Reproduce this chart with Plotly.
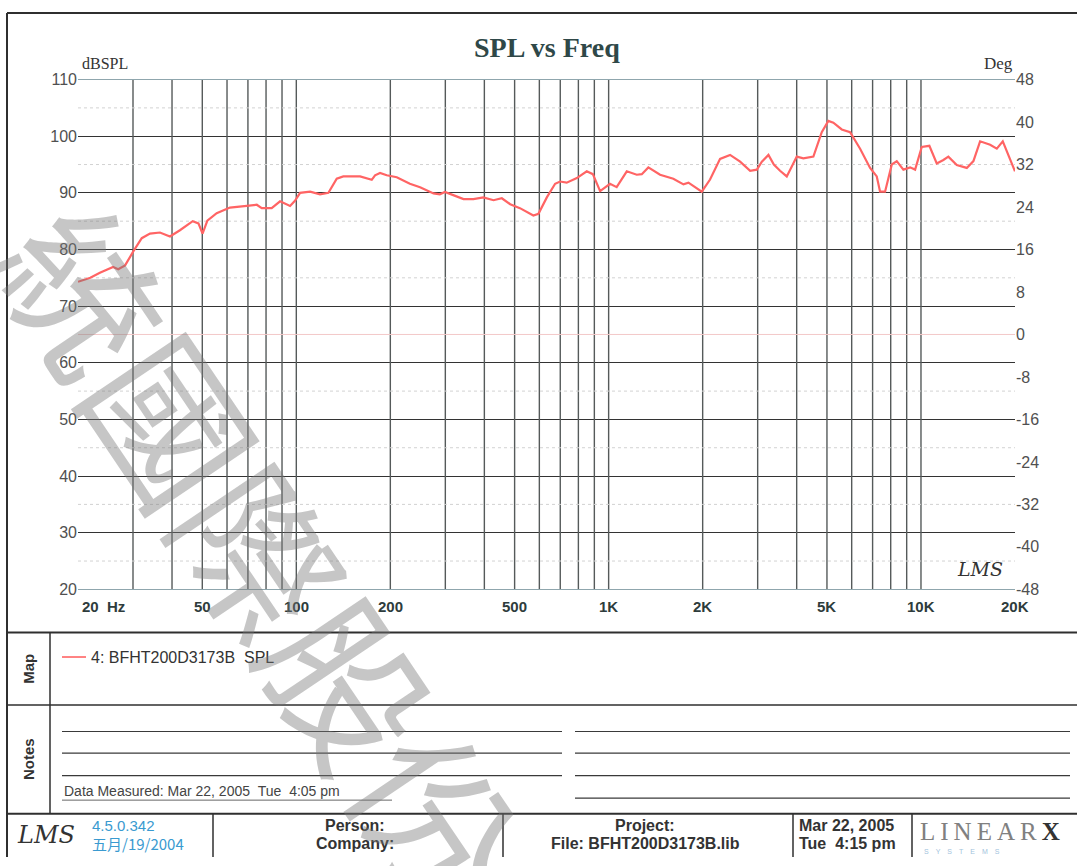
import math
import plotly.graph_objects as go

# ---------------- data ----------------
freq_hz = [20, 21.9, 23.5, 25.9, 26.9, 28.3, 30.1, 32, 34, 36.6, 39.4, 42.4, 46.6, 48.6, 50.1,
           51.9, 55.6, 61.3, 69.4, 74.7, 77.5, 83.4, 88.7, 95.5, 99, 102.8, 110.7, 119.1, 126.7,
           134.7, 141.4, 160, 174.4, 178.7, 185.4, 194.8, 209.7, 231, 249, 275, 288, 299, 318,
           343, 369, 397, 428, 455, 484, 520, 574, 596, 634, 674, 699, 734, 791, 851, 890, 939,
           1010, 1061, 1143, 1230, 1277, 1340, 1461, 1611, 1736, 1801, 1987, 2112, 2274, 2448,
           2636, 2838, 2982, 3094, 3248, 3380, 3538, 3718, 3858, 4002, 4202, 4524, 4812, 5052,
           5242, 5576, 5930, 6384, 6872, 7218, 7396, 7674, 8064, 8366, 8784, 9230, 9576, 10058,
           10638, 11234, 11794, 12238, 13020, 14020, 14720, 15462, 16650, 17490, 18278, 19050,
           20000]
spl_db = [74.3, 75.0, 75.9, 76.9, 76.5, 77.2, 79.7, 82.0, 82.8, 83.0, 82.3, 83.4, 85.0, 84.6, 82.8,
          85.1, 86.4, 87.4, 87.7, 87.9, 87.3, 87.3, 88.5, 87.7, 88.6, 90.0, 90.2, 89.75, 90.0,
          92.5, 92.9, 92.9, 92.3, 93.1, 93.5, 93.1, 92.75, 91.6, 91.0, 89.9, 89.75, 90.15, 89.6,
          88.9, 88.9, 89.2, 88.7, 89.05, 88.0, 87.3, 86.0, 86.3, 89.2, 91.6, 92.0, 91.8, 92.6, 93.8, 93.3, 90.3,
          91.6, 91.0, 93.8, 93.2, 93.3, 94.5, 93.2, 92.5, 91.5, 91.8, 90.2, 92.35, 96.0, 96.7,
          95.5, 93.9, 94.1, 95.5, 96.7, 95.0, 93.9, 92.9, 94.65, 96.4, 96.1, 96.4, 100.7, 102.7,
          102.4, 101.2, 100.7, 97.8, 94.4, 92.9, 90.2, 90.2, 95.0, 95.6, 94.1, 94.5, 94.1, 98.1,
          98.3, 95.2, 95.8, 96.4, 94.9, 94.4, 95.6, 99.1, 98.5, 97.8, 99.1, 96.7,
          93.8]

x_label_vals = [20, 50, 100, 200, 500, 1000, 2000, 5000, 10000, 20000]
x_label_text = ["20\u00a0\u00a0Hz", "50", "100", "200", "500", "1K", "2K", "5K", "10K", "20K"]
x_grid_vals = [30, 40, 50, 60, 70, 80, 90, 100, 200, 300, 400, 500, 600, 700, 800, 900, 1000,
               2000, 3000, 4000, 5000, 6000, 7000, 8000, 9000, 10000]
spl_ticks = [20, 30, 40, 50, 60, 70, 80, 90, 100, 110]
spl_minor = [25, 35, 45, 55, 75, 85, 95, 105]
deg_ticks = [-48, -40, -32, -24, -16, -8, 0, 8, 16, 24, 32, 40, 48]
deg_text = ["-48", "-40", "-32", "-24", "-16", "-8", "0", "8", "16", "24", "32", "40", "48"]

W, H = 1077, 866


def px(x):
    return x / W


def py(y):
    return 1 - y / H


fig = go.Figure()

# vertical grid lines
gx, gy = [], []
for f in x_grid_vals:
    gx += [f, f, None]
    gy += [20, 110, None]
fig.add_trace(go.Scatter(x=gx, y=gy, mode="lines", line=dict(color="#555a5a", width=1.4),
                         showlegend=False, hoverinfo="skip"))
# minor dotted horizontal grid lines
hx, hy = [], []
for v in spl_minor:
    hx += [20, 20000, None]
    hy += [v, v, None]
fig.add_trace(go.Scatter(x=hx, y=hy, mode="lines", line=dict(color="#d2d2d2", width=1, dash="dot"),
                         showlegend=False, hoverinfo="skip"))
# zero-degree line (faint pink)
fig.add_trace(go.Scatter(x=[20, 20000], y=[0, 0], yaxis="y2", mode="lines",
                         line=dict(color="#f3c8c8", width=1), showlegend=False, hoverinfo="skip"))
# SPL curve
fig.add_trace(go.Scatter(x=freq_hz, y=spl_db, mode="lines", line=dict(color="#ff6464", width=2.2),
                         showlegend=False, hoverinfo="skip"))

tickfont = dict(family="Liberation Sans", size=16, color="#505050")

fig.update_layout(
    width=W, height=H, margin=dict(l=0, r=0, t=0, b=0), autosize=False,
    paper_bgcolor="white", plot_bgcolor="white",
    xaxis=dict(type="log", range=[math.log10(20), math.log10(20000)], domain=[px(78), px(1015)],
               showgrid=False, zeroline=False, showticklabels=False, ticks="",
               showline=True, linecolor="#8fa6ad", linewidth=1.2, mirror=True),
    yaxis=dict(range=[20, 110], domain=[py(593), py(73)], tickvals=spl_ticks,
               showgrid=True, gridcolor="#333333", gridwidth=1.4, zeroline=False,
               tickfont=tickfont, ticks="", showline=False),
    yaxis2=dict(range=[-48, 48], overlaying="y", side="right", anchor="x", tickvals=deg_ticks,
                ticktext=deg_text,
                showgrid=False, zeroline=False, tickfont=tickfont, ticks="", showline=False),
)

ann = []


def note(x, y, text, font, xanchor="center", textangle=0):
    ann.append(dict(x=px(x), y=py(y), xref="paper", yref="paper", text=text, showarrow=False,
                    xanchor=xanchor, yanchor="middle", textangle=textangle, font=font))


# x tick labels
for v, t in zip(x_label_vals, x_label_text):
    ann.append(dict(x=math.log10(v), xref="x", y=py(610), yref="paper",
                    text=t, showarrow=False, xanchor="left" if v == 20 else "center", yanchor="middle",
                    font=dict(family="Liberation Sans", size=15, color="#2e3c3c", weight="bold"),
                    xshift=2 if v == 20 else 0))
# title and axis names
note(547, 40, "<b>SPL vs Freq</b>", dict(family="Liberation Serif", size=28, color="#2f4848"))
note(80, 57, "dBSPL", dict(family="Liberation Serif", size=16, color="#333"), "left")
note(1015, 57, "Deg", dict(family="Liberation Serif", size=17, color="#333"), "right")
# LMS mark in plot
note(980, 572, "LMS", dict(family="DejaVu Serif", size=19, color="#333", style="italic"))
# Map / Notes labels
note(29, 674, "<b>Map</b>", dict(family="Liberation Sans", size=15, color="#333"), textangle=-90)
note(29, 766, "<b>Notes</b>", dict(family="Liberation Sans", size=15, color="#333"), textangle=-90)
note(89, 662, "4: BFHT200D3173B\u00a0\u00a0SPL", dict(family="Liberation Sans", size=16, color="#333"), "left")
note(62, 799, "Data Measured: Mar 22, 2005\u00a0\u00a0Tue\u00a0\u00a04:05 pm",
     dict(family="Liberation Sans", size=14, color="#444"), "left")
# footer
note(46, 844, "LMS", dict(family="DejaVu Serif", size=24, color="#333", style="italic"))
note(90, 834, "4.5.0.342", dict(family="Liberation Sans", size=15, color="#3a9ad0"), "left")
note(90, 852, "五月/19/2004", dict(family="Noto Sans CJK TC", size=15, color="#3a9ad0"), "left")
bold = dict(family="Liberation Sans", size=16, color="#333", weight="bold")
note(355, 834, "Person:", bold)
note(355, 852, "Company:", bold)
note(645, 834, "Project:", bold)
note(645, 852, "File: BFHT200D3173B.lib", bold)
note(797, 834, "Mar 22, 2005", bold, "left")
note(797, 852, "Tue\u00a0\u00a04:15 pm", bold, "left")
note(918, 840, "L\u2009I\u2009N\u2009E\u2009A\u2009R\u2009<b><span style='color:#333'>X</span></b>",
     dict(family="Liberation Serif", size=25, color="#808080"), "left")
note(922, 860, "S\u2003Y\u2003S\u2003T\u2003E\u2003M\u2003S",
     dict(family="Liberation Sans", size=7, color="#9fc3dd"), "left")
# watermark
note(264, 552, "統國際股份", dict(family="Noto Sans CJK TC", size=158, color="rgba(120,120,120,0.42)"),
     "center", textangle=56)

fig.update_layout(annotations=ann)

# frame and table lines (paper coordinates)
lc = "#2f2f2f"
shapes = []


def hline(x0, x1, y, w=1.5, color=lc):
    shapes.append(dict(type="line", xref="paper", yref="paper", x0=px(x0), x1=px(x1), y0=py(y), y1=py(y),
                       line=dict(color=color, width=w)))


def vline(x, y0, y1, w=1.5, color=lc):
    shapes.append(dict(type="line", xref="paper", yref="paper", x0=px(x), x1=px(x), y0=py(y0), y1=py(y1),
                       line=dict(color=color, width=w)))


hline(7, 1077, 5, 2)
vline(7, 5, 866, 2)
hline(7, 1077, 637, 2)
hline(7, 1077, 711, 1.5)
hline(7, 1077, 822, 2)
vline(50, 637, 822, 1.5)
for yy in [738, 760, 783, 806]:
    hline(575, 1070, yy, 1.2, "#3a3a3a")
for yy in [738, 760, 783]:
    hline(62, 562, yy, 1.2, "#3a3a3a")
hline(62, 392, 808, 1, "#666")
for xx in [213, 503, 793, 912]:
    vline(xx, 822, 866, 1.5)
# legend swatch in Map
hline(62, 86, 662, 1.5, "#ff5a5a")
fig.update_layout(shapes=shapes)

fig.write_html("out.html", config={"displayModeBar": False},
               post_script="document.body.style.margin='0px';document.body.style.overflow='hidden';")
